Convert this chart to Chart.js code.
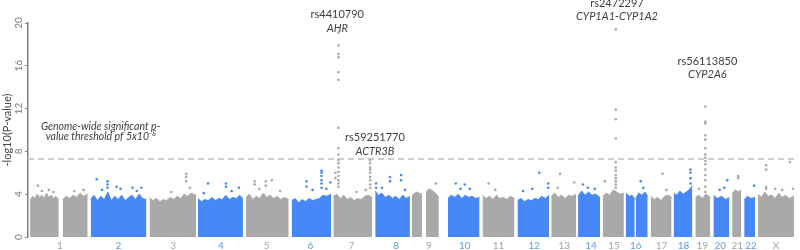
<!DOCTYPE html>
<html>
<head>
<meta charset="utf-8">
<script src="https://cdn.jsdelivr.net/npm/chart.js@4.4.0/dist/chart.umd.min.js"></script>
<style>
  html, body { margin: 0; padding: 0; background: #fff; }
  #wrap { width: 800px; height: 250px; }
</style>
</head>
<body>
<div id="wrap"><canvas id="myChart" width="800" height="250"></canvas></div>
<script>
// chromosome names and label positions (cumulative genome position, Mb)
const chromNames = ["1", "2", "3", "4", "5", "6", "7", "8", "9", "10", "11", "12",
  "13", "14", "15", "16", "17", "18", "19", "20", "21", "22", "X"];
const chromLabelPos = [138, 391, 628, 834, 1032, 1221, 1398, 1591, 1733, 1888, 2034, 2189,
  2318, 2434, 2533, 2627, 2739, 2834, 2915, 2993, 3066, 3126, 3234];

// dense bulk of SNPs: one entry per chromosome segment, top edge of the cloud
const bulkChrom = [0, 0, 1, 2, 3, 4, 5, 6, 7, 8, 8, 9, 10, 11, 12, 13, 14, 15, 15, 16, 17, 18, 19, 20, 21, 22];
const bulkPos = [
  [9, 20, 30, 40, 50, 60, 70, 80, 90, 100, 110, 120, 133],
  [150, 165, 180, 195, 210, 225, 240, 258],
  [271, 285, 300, 315, 330, 345, 360, 375, 390, 405, 420, 435, 450, 465, 480, 495, 512],
  [525, 540, 555, 570, 585, 600, 615, 630, 645, 660, 675, 690, 705, 727],
  [735, 750, 765, 780, 795, 810, 825, 840, 855, 870, 885, 900, 915, 929],
  [942, 957, 972, 987, 1002, 1017, 1032, 1047, 1062, 1077, 1092, 1107, 1127],
  [1140, 1155, 1170, 1185, 1200, 1215, 1230, 1245, 1260, 1275, 1290, 1311],
  [1320, 1335, 1350, 1365, 1380, 1395, 1410, 1425, 1440, 1455, 1470, 1488],
  [1501, 1515, 1530, 1545, 1560, 1575, 1590, 1605, 1620, 1635, 1651],
  [1660, 1680, 1703],
  [1720, 1735, 1750, 1765, 1776],
  [1815, 1830, 1845, 1860, 1875, 1890, 1905, 1920, 1935, 1952],
  [1965, 1980, 1995, 2010, 2025, 2040, 2055, 2070, 2085, 2103],
  [2116, 2131, 2146, 2161, 2176, 2191, 2206, 2221, 2236, 2253],
  [2262, 2277, 2292, 2307, 2322, 2337, 2352, 2369],
  [2378, 2393, 2408, 2423, 2438, 2453, 2473],
  [2485, 2500, 2515, 2530, 2545, 2560, 2576],
  [2584, 2600, 2612, 2623],
  [2627, 2640, 2655, 2667, 2679],
  [2692, 2707, 2722, 2737, 2752, 2767, 2782],
  [2791, 2805, 2818, 2832, 2845, 2858, 2872],
  [2885, 2900, 2915, 2930, 2950],
  [2963, 2980, 2998, 3015, 3032],
  [3044, 3058, 3070, 3083],
  [3096, 3110, 3125, 3143],
  [3156, 3170, 3185, 3200, 3215, 3230, 3245, 3260, 3275, 3290, 3311]
];
const bulkTop = [
  [3.4, 3.8, 3.6, 4.0, 3.7, 3.9, 3.6, 4.1, 3.7, 3.9, 3.6, 3.8, 3.5],
  [3.5, 3.8, 3.6, 3.9, 3.7, 4.1, 3.8, 4.0],
  [3.5, 3.9, 3.4, 3.8, 3.5, 4.2, 3.4, 3.8, 3.5, 3.9, 3.4, 3.7, 3.9, 3.5, 4.0, 3.6, 3.5],
  [3.7, 3.4, 3.6, 3.3, 3.5, 3.4, 3.7, 3.5, 3.8, 3.6, 4.0, 3.8, 4.1, 3.9],
  [3.6, 3.3, 3.5, 3.4, 3.7, 3.4, 3.6, 3.5, 3.9, 3.5, 3.7, 3.6, 3.9, 3.6],
  [3.7, 4.0, 3.5, 3.8, 3.6, 4.1, 3.7, 3.9, 3.6, 3.8, 3.5, 3.7, 3.5],
  [3.4, 3.6, 3.2, 3.5, 3.3, 3.6, 3.4, 3.5, 3.6, 3.9, 3.8, 4.0],
  [3.8, 4.0, 3.6, 3.9, 3.5, 3.7, 3.4, 3.6, 3.5, 3.8, 3.9, 3.7],
  [4.3, 3.9, 4.1, 3.7, 3.9, 3.6, 3.8, 3.5, 3.9, 3.6, 3.8],
  [3.9, 4.2, 4.0],
  [4.2, 4.5, 4.3, 4.0, 3.7],
  [3.6, 3.9, 3.7, 4.0, 3.6, 3.9, 3.7, 3.8, 3.6, 3.7],
  [3.9, 3.6, 3.8, 3.5, 3.9, 3.6, 3.7, 3.5, 3.8, 3.6],
  [3.4, 3.6, 3.3, 3.5, 3.4, 3.6, 3.5, 3.8, 3.6, 3.9],
  [3.8, 4.1, 3.7, 3.9, 3.6, 3.9, 3.8, 4.0],
  [3.8, 4.3, 3.9, 4.2, 3.9, 4.0, 3.7],
  [3.8, 4.1, 3.9, 4.4, 4.2, 4.0, 4.1],
  [4.1, 3.8, 3.9, 3.5],
  [3.6, 4.1, 3.9, 4.2, 3.8],
  [3.8, 3.5, 3.7, 3.4, 3.8, 3.9, 3.7],
  [4.1, 3.9, 4.3, 4.0, 4.2, 4.4, 4.8],
  [3.7, 3.9, 3.6, 4.0, 3.7],
  [3.9, 3.6, 3.8, 3.5, 3.7],
  [4.1, 4.4, 4.2, 4.4],
  [3.5, 3.8, 3.6, 3.7],
  [4.0, 3.7, 4.2, 3.8, 3.9, 3.6, 4.1, 3.7, 3.9, 3.6, 3.8]
];

// isolated SNPs standing out above the bulk
const peakChrom = [
  0, 0, 0, 0, 0, 0,
  1, 1, 1, 1, 1, 1, 1, 1, 1, 1,
  2, 2, 2, 2, 2,
  3, 3, 3, 3, 3, 3,
  4, 4, 4, 4, 4, 4, 4,
  5, 5, 5, 5, 5, 5, 5, 5, 5, 5, 5,
  6, 6, 6, 6, 6, 6, 6, 6, 6, 6, 6, 6, 6, 6, 6, 6, 6, 6, 6,
  6, 6, 6, 6, 6, 6, 6, 6, 6, 6, 6,
  7, 7, 7, 7, 7, 7, 7, 7,
  8, 9, 9, 9, 9, 10, 10, 11, 11, 11, 11, 11,
  12, 12, 12, 13, 13, 13,
  14, 14, 14, 14, 14, 14, 14, 14, 14, 14, 14, 14, 14,
  15, 15, 16, 16, 17, 17, 17, 17,
  18, 18, 18, 18, 18, 18, 18, 18, 18, 18, 18, 18, 18, 18, 18, 18,
  19, 19, 19, 20, 20, 21,
  22, 22, 22, 22, 22, 22, 22, 22
];
const peakPos = [
  43, 90, 60, 110, 200, 240,
  297, 344, 344, 344, 383, 452, 320, 400, 470, 490,
  684, 684, 684, 620, 700,
  778, 856, 856, 912, 760, 880,
  980, 980, 1028, 1028, 1054, 1000, 1090,
  1269, 1269, 1269, 1269, 1269, 1269, 1204, 1204, 1307, 1230, 1290,
  1342, 1342, 1342, 1342, 1342, 1342, 1342, 1342, 1342, 1342, 1342, 1342, 1342, 1342, 1342, 1342, 1342, 1329, 1329,
  1479, 1479, 1479, 1479, 1479, 1479, 1479, 1479, 1479, 1420, 1460,
  1565, 1565, 1613, 1613, 1505, 1505, 1530, 1630,
  1763, 1849, 1888, 1870, 1910, 1991, 2020, 2210, 2249, 2249, 2140, 2180,
  2300, 2361, 2290, 2399, 2420, 2450,
  2541, 2541, 2541, 2541, 2541, 2541, 2541, 2541, 2541, 2541, 2541, 2541, 2494,
  2649, 2660, 2743, 2760, 2864, 2864, 2864, 2864,
  2928, 2928, 2928, 2928, 2928, 2928, 2928, 2928, 2928, 2928, 2928, 2928, 2928, 2928, 2928, 2900,
  3023, 2990, 3010, 3070, 3070, 3139,
  3191, 3191, 3191, 3191, 3294, 3307, 3230, 3260
];
const peakVal = [
  4.8, 4.4, 4.3, 4.2, 4.3, 4.4,
  5.4, 5.2, 4.9, 4.6, 4.7, 4.6, 4.4, 4.5, 4.3, 4.6,
  5.9, 5.6, 5.2, 4.2, 4.6,
  5.0, 5.0, 4.7, 4.6, 4.1, 4.3,
  5.2, 4.9, 5.2, 4.8, 5.3, 4.5, 4.3,
  6.2, 6.0, 5.7, 5.3, 5.0, 4.6, 5.2, 4.7, 5.1, 4.4, 4.5,
  19.1, 17.9, 17.1, 16.8, 15.4, 14.7, 10.2, 8.3, 7.7, 7.2, 6.9, 6.5, 6.1, 5.7, 5.3, 5.0, 4.7, 6.0, 5.5,
  7.2, 6.9, 6.5, 6.3, 6.0, 5.6, 5.3, 4.9, 4.6, 4.2, 4.4,
  5.6, 5.2, 5.8, 5.3, 5.0, 4.6, 4.6, 4.4,
  5.0, 5.0, 4.9, 4.5, 4.5, 5.0, 4.4, 6.0, 5.0, 4.6, 4.3, 4.5,
  5.9, 5.1, 4.6, 4.9, 4.6, 4.5,
  19.4, 11.9, 11.0, 9.2, 7.0, 6.5, 6.2, 5.8, 5.5, 5.2, 4.9, 4.6, 5.2,
  5.2, 4.6, 5.9, 4.4, 6.3, 6.0, 5.5, 5.0,
  12.2, 10.8, 10.6, 9.5, 9.1, 8.3, 7.7, 7.4, 7.1, 6.8, 6.3, 5.8, 5.3, 4.7, 4.2, 4.5,
  5.3, 4.4, 4.6, 5.7, 5.5, 4.8,
  6.7, 6.3, 4.7, 4.5, 7.0, 4.5, 4.5, 4.4
];

// genome-wide significance, -log10(5e-8)
const threshold = 7.3;

const hitSnp = ["rs4410790", "rs59251770", "rs2472297", "rs56113850"];
const hitGene = ["AHR", "ACTR3B", "CYP1A1-CYP1A2", "CYP2A6"];

// where the hit labels sit: [genome pos, snp line, gene line]
const hitLabelAt = [[1337, 20.8, 19.5], [1500, 9.35, 8.0], [2546, 21.8, 20.6], [2937, 16.4, 15.2]];
const noteAt = [314, 10.3, 9.35];

const FONT = "Lato, 'Open Sans', sans-serif";
const GREY = "#a9a9a9";
const BLUE = "#4888f6";
const GREY_LABEL = "#a3a3a3";
const BLUE_LABEL = "#5b9de6";

function chromColor(i) {
  return i % 2 ? BLUE : GREY;
}

function buildDatasets() {
  const sets = [];
  sets.push({
    type: "scatter",
    data: peakPos.map((p, i) => ({ x: p, y: peakVal[i] })),
    backgroundColor: peakChrom.map(chromColor),
    pointRadius: 1.3,
    borderWidth: 0,
    order: 0
  });
  sets.push({
    type: "line",
    data: [{ x: 0, y: threshold }, { x: 3320, y: threshold }],
    borderColor: "#cdcdcd",
    borderDash: [6, 4],
    borderWidth: 2,
    pointRadius: 0,
    fill: false,
    order: 1
  });
  bulkPos.forEach((xs, s) => {
    const col = chromColor(bulkChrom[s]);
    sets.push({
      type: "line",
      data: xs.map((p, i) => ({ x: p, y: bulkTop[s][i] })),
      borderColor: col,
      backgroundColor: col,
      borderWidth: 1,
      pointRadius: 0,
      tension: 0,
      fill: "origin",
      order: 2
    });
  });
  return sets;
}

const labelPlugin = {
  id: "hitLabels",
  afterDatasetsDraw(chart) {
    const { ctx, scales } = chart;
    const x = scales.x;
    const y = scales.y;
    ctx.save();
    ctx.fillStyle = "#404040";
    ctx.textAlign = "center";
    ctx.textBaseline = "middle";
    hitSnp.forEach((snp, i) => {
      const at = hitLabelAt[i];
      const px = x.getPixelForValue(at[0]);
      ctx.font = "11px " + FONT;
      ctx.fillText(snp, px, y.getPixelForValue(at[1]));
      ctx.font = "italic 11px " + FONT;
      ctx.fillText(hitGene[i], px, y.getPixelForValue(at[2]));
    });

    // threshold note, with superscript exponent
    const nx = x.getPixelForValue(noteAt[0]);
    ctx.font = "italic 10.5px " + FONT;
    ctx.fillText("Genome-wide significant p-", nx, y.getPixelForValue(noteAt[1]));
    const base = "value threshold pf 5x10";
    const sup = "-8";
    const wBase = ctx.measureText(base).width;
    ctx.font = "italic 7px " + FONT;
    const wSup = ctx.measureText(sup).width;
    const left = nx - (wBase + wSup) / 2;
    const ly = y.getPixelForValue(noteAt[2]);
    ctx.textAlign = "left";
    ctx.fillText(sup, left + wBase + 0.5, ly - 3);
    ctx.font = "italic 10.5px " + FONT;
    ctx.fillText(base, left, ly);
    ctx.restore();
  }
};

function createChart() {
  const ctx = document.getElementById("myChart").getContext("2d");
  return new Chart(ctx, {
    type: "scatter",
    data: { datasets: buildDatasets() },
    options: {
      responsive: false,
      animation: false,
      layout: { padding: { top: 23, left: 0, right: 0, bottom: 0 } },
      plugins: { legend: { display: false }, tooltip: { enabled: false } },
      scales: {
        x: {
          type: "linear",
          min: 0,
          max: 3320,
          grid: { display: false, drawTicks: false },
          border: { display: false },
          afterBuildTicks(scale) {
            scale.ticks = chromLabelPos.map(v => ({ value: v }));
          },
          afterFit(scale) {
            scale.height = 13;
          },
          ticks: {
            autoSkip: false,
            maxRotation: 0,
            padding: 3,
            font: { size: 10, family: FONT },
            color: c => (c.index % 2 ? BLUE_LABEL : GREY_LABEL),
            callback: (v, i) => chromNames[i]
          }
        },
        y: {
          min: 0,
          max: 20,
          grid: { drawOnChartArea: false, tickLength: 3, color: "#808080" },
          border: { color: "#808080", width: 1.5 },
          afterFit(scale) {
            scale.width = 28;
          },
          ticks: {
            stepSize: 4,
            minRotation: 90,
            maxRotation: 90,
            crossAlign: "center",
            padding: 0,
            color: "#7a7a7a",
            font: { size: 10, family: FONT }
          },
          title: {
            display: true,
            text: "-log10(P-value)",
            color: "#444444",
            padding: { top: 1, bottom: 0 },
            font: { size: 11, family: FONT }
          }
        }
      }
    },
    plugins: [labelPlugin]
  });
}

window.onload = function() {
  createChart();
};
</script>
</body>
</html>
